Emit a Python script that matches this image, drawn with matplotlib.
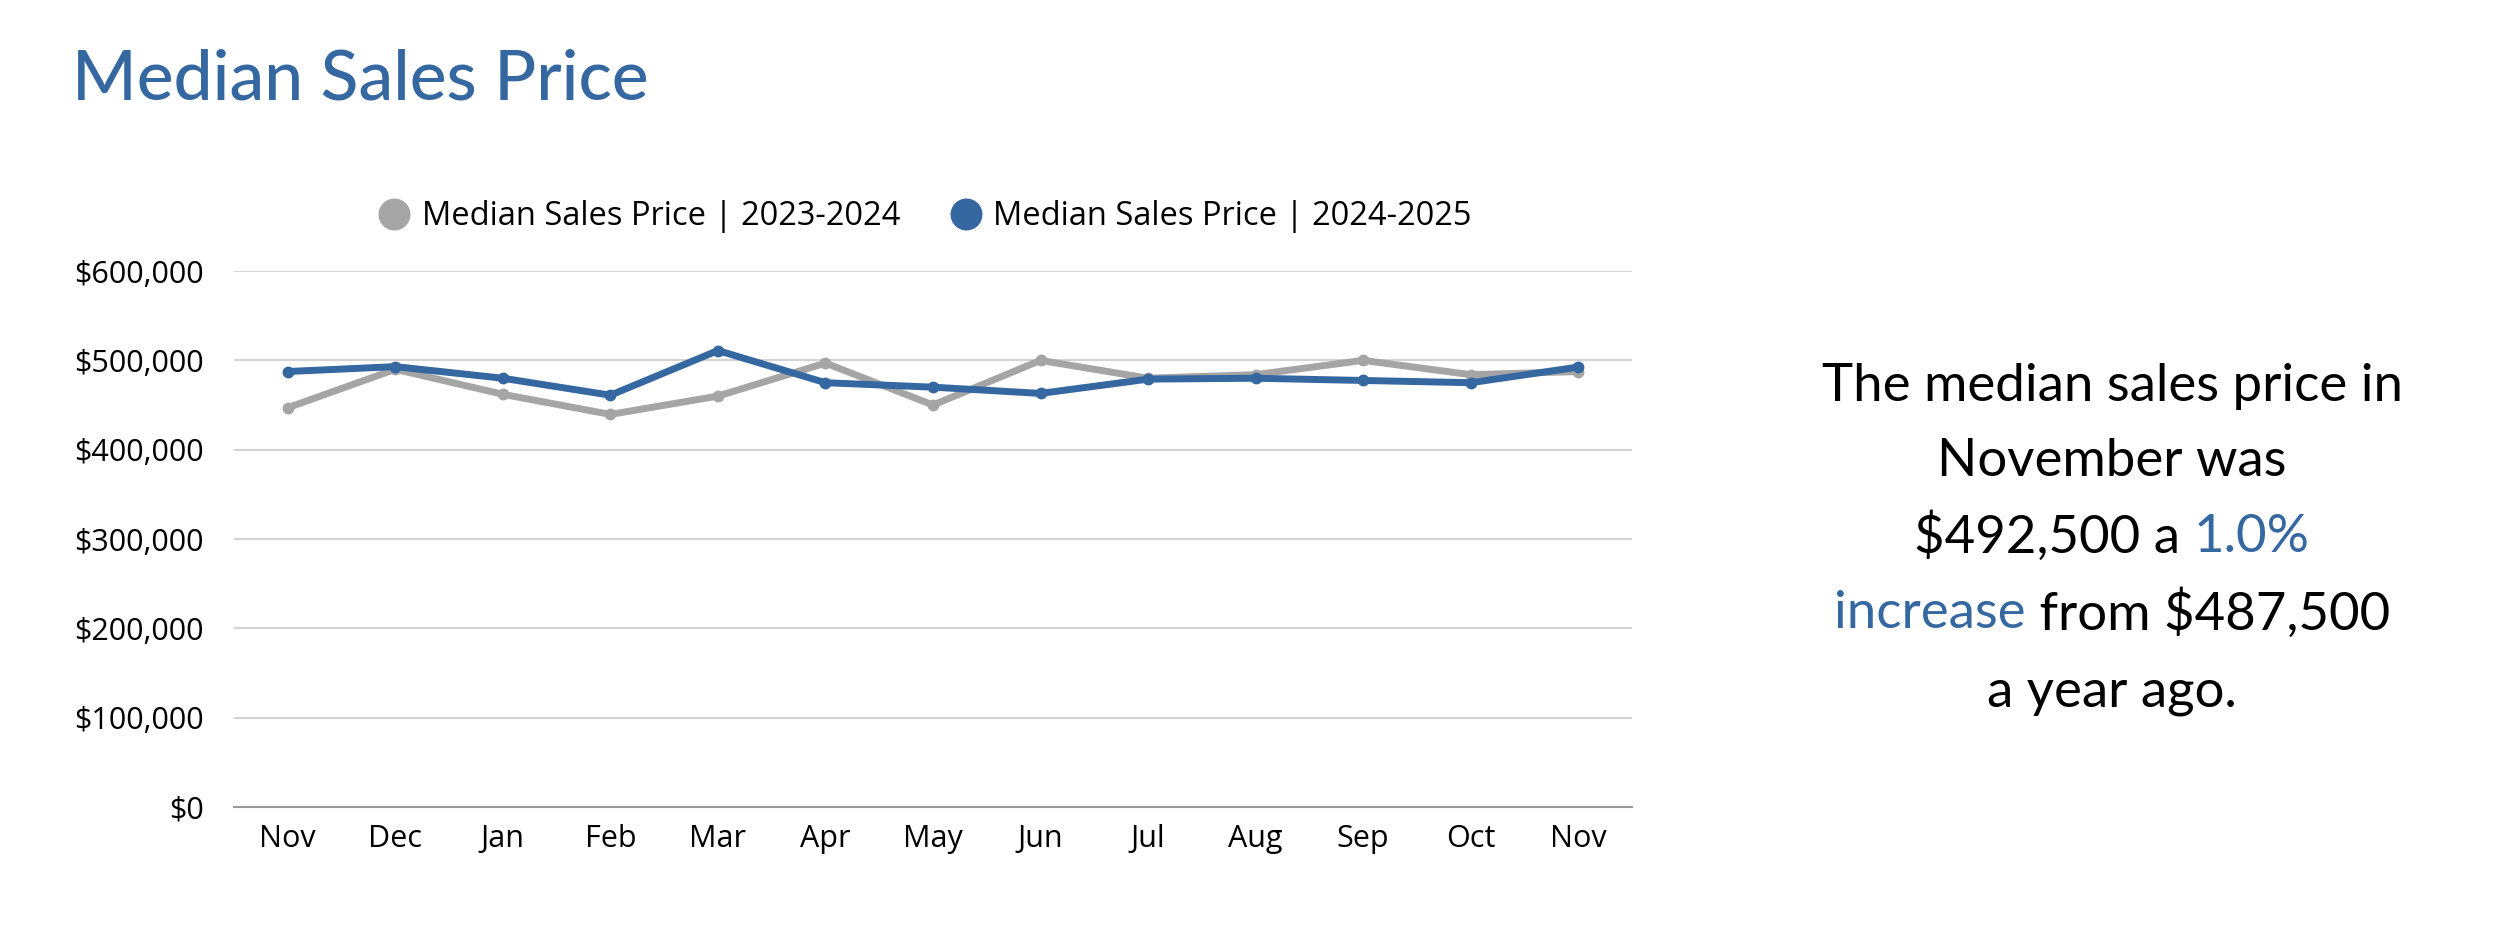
import matplotlib.pyplot as plt
from matplotlib.lines import Line2D
from matplotlib.ticker import FuncFormatter

months = ['Nov', 'Dec', 'Jan', 'Feb', 'Mar', 'Apr', 'May', 'Jun', 'Jul', 'Aug', 'Sep', 'Oct', 'Nov']
price_2023_2024 = [447000, 490000, 462000, 439500, 460000, 497000, 450000, 500000, 480000, 484000, 500000, 484000, 487500]
price_2024_2025 = [487500, 493000, 480000, 461000, 511000, 475000, 470000, 463000, 479000, 480000, 477500, 475000, 492500]
labels = ['Median Sales Price | 2023-2024', 'Median Sales Price | 2024-2025']

GRAY = '#a5a5a5'
BLUE = '#3567a0'
TICK_FONT = 'Open Sans'
HEAD_FONT = 'Lato'

fig = plt.figure(figsize=(25, 9.33), dpi=100)
ax = fig.add_axes([0.0936, 0.135, 0.5592, 0.5745])

x = range(len(months))
ax.plot(x, price_2023_2024, color=GRAY, lw=5, marker='o', ms=7.5, solid_joinstyle='round')
ax.plot(x, price_2024_2025, color=BLUE, lw=5, marker='o', ms=7.5, solid_joinstyle='round')

ax.set_ylim(0, 600000)
ax.set_xlim(-0.5, len(months) - 0.5)
ax.set_yticks(range(0, 600001, 100000))
ax.yaxis.set_major_formatter(FuncFormatter(lambda v, p: '${:,.0f}'.format(v)))
ax.set_xticks(list(x))
ax.set_xticklabels(months)
ax.grid(axis='y', color='#d4d4d4', lw=1.5)
ax.set_axisbelow(True)
for s in ['top', 'right', 'left']:
    ax.spines[s].set_visible(False)
ax.spines['bottom'].set_color('#9a9a9a')
ax.spines['bottom'].set_linewidth(1.5)
ax.tick_params(length=0, labelsize=22)
ax.tick_params(axis='x', pad=12)
ax.tick_params(axis='y', pad=22)
for t in ax.get_xticklabels() + ax.get_yticklabels():
    t.set_fontfamily(TICK_FONT)

handles = [Line2D([], [], ls='none', marker='o', ms=22, color=GRAY),
           Line2D([], [], ls='none', marker='o', ms=22, color=BLUE)]
fig.legend(handles, labels, loc='center', bbox_to_anchor=(0.370, 0.7675), ncol=2, frameon=False,
           prop={'family': TICK_FONT, 'size': 23.5}, handletextpad=0.35, columnspacing=1.5, handlelength=1.0)

fig.text(0.029, 1 - 99 / 933, 'Median Sales Price', color=BLUE, fontsize=50, fontfamily=HEAD_FONT,
         fontweight='medium', va='baseline')

# right-hand note, some words in blue
lines = [
    [('The median sales price in', 'black')],
    [('November was', 'black')],
    [('$492,500 a ', 'black'), ('1.0%', BLUE)],
    [('increase', BLUE), (' from $487,500', 'black')],
    [('a year ago.', 'black')],
]
centre_x = 2112 / 2500
line_y = [386, 461, 537, 614, 693]
fig.canvas.draw()
r = fig.canvas.get_renderer()
for parts, yy in zip(lines, line_y):
    texts = [fig.text(0, 1 - yy / 933, s, color=c, fontsize=38, fontfamily=HEAD_FONT,
                      va='center', ha='left') for s, c in parts]
    widths = [t.get_window_extent(r).width / fig.bbox.width for t in texts]
    xx = centre_x - sum(widths) / 2
    for t, w in zip(texts, widths):
        t.set_x(xx)
        xx += w

fig.savefig('out.png', dpi=100)
